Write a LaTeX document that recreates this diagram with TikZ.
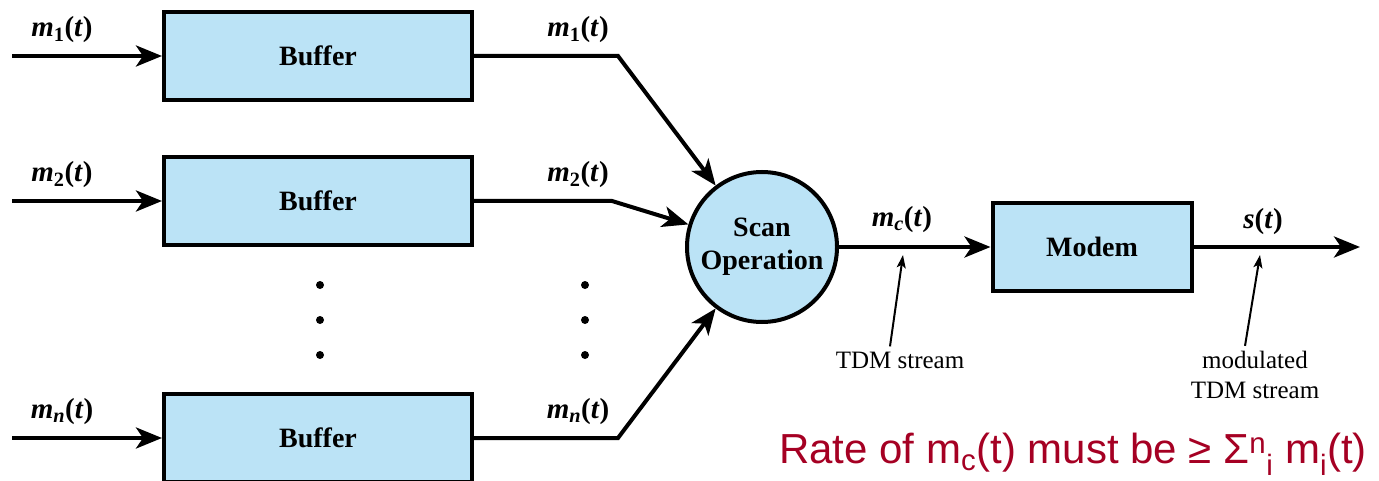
\documentclass[tikz,border=0pt]{standalone}
\usepackage{fontspec}
\setmainfont{Liberation Serif}
\newfontfamily\ratefont{Liberation Sans}
\usetikzlibrary{arrows.meta,positioning}
\definecolor{bufblue}{RGB}{187,227,246}
\definecolor{ratered}{RGB}{165,0,35}
\newcommand{\sig}[2]{\textbf{\textit{#1}\textsubscript{#2}(\textit{t})}}

\begin{document}
\begin{tikzpicture}[x=1pt,y=-1pt,>={Stealth[length=26pt,width=21pt,inset=7pt]},
  line width=4pt,
  buf node/.style={rectangle,draw,fill=bufblue,minimum width=308pt,
  minimum height=88pt,font=\fontsize{28}{30}\selectfont\bfseries},
  scan node/.style={circle,draw,fill=bufblue,minimum size=150pt,inner sep=0pt,
  align=center,font=\fontsize{28}{33}\selectfont\bfseries},
  sig label/.style={font=\fontsize{29}{30}\selectfont},
  note/.style={font=\fontsize{25}{30}\selectfont,align=center},
  note arrow/.style={line width=2pt,-{Stealth[length=13pt,width=9pt,inset=3pt]}}]

  \clip (0,0) rectangle (1379,481);

  \node[buf node] (B1) at (318,56) {Buffer};
  \node[buf node] (B2) at (318,201) {Buffer};
  \node[buf node] (Bn) at (318,438) {Buffer};
  \node[scan node] (scan) at (762,247) {Scan\\Operation};
  \node[buf node, minimum width=199pt] (modem) at (1092,247) {Modem};

  \coordinate (in1) at (12,56);
  \coordinate (in2) at (12,201);
  \coordinate (inn) at (12,438);
  \coordinate (k1) at (618,56);
  \coordinate (k2) at (612,201);
  \coordinate (kn) at (618,438);
  \coordinate (out) at (1360,247);

  % inputs and outputs of the buffers
  \path[->]
    (in1) edge (B1)
    (in2) edge (B2)
    (inn) edge (Bn)
    (scan) edge (modem)
    (modem) edge (out);
  \draw[->] (B1) -- (k1) -- (scan);
  \draw[->] (B2) -- (k2) -- (scan);
  \draw[->] (Bn) -- (kn) -- (scan);

  \node[sig label] (l1) at (62,30) {\sig{m}{1}};
  \node[sig label] (l2) at (62,175) {\sig{m}{2}};
  \node[sig label] (ln) at (62,412) {\sig{m}{\textit{n}}};
  \node[sig label] (r1) at (578,30) {\sig{m}{1}};
  \node[sig label] (r2) at (578,175) {\sig{m}{2}};
  \node[sig label] (rn) at (578,412) {\sig{m}{\textit{n}}};
  \node[sig label] (lc) at (902,220) {\sig{m}{\textit{c}}};
  \node[sig label] (ls) at (1263,222) {\textbf{\textit{s}(\textit{t})}};

  \foreach \y in {285,320,355} {
    \fill (320,\y) circle (4pt);
    \fill (585,\y) circle (4pt);
  }

  % stream annotations
  \node[note] (tdm) at (900,360) {TDM stream};
  \node[note] (mtdm) at (1255,375) {modulated\\TDM stream};
  \coordinate (tdmtip) at (903,255);
  \coordinate (mtdmtip) at (1260,255);
  \draw[note arrow] ([xshift=-10pt]tdm.north) -- (tdmtip);
  \draw[note arrow] ([xshift=-10pt]mtdm.north) -- (mtdmtip);

  \node[anchor=base east,text=ratered,font=\ratefont\fontsize{42}{48}\selectfont]
    (rate) at (1372,463)
    {Rate of m\textsubscript{c}(t) must be ≥ Σ\textsuperscript{n}\textsubscript{i} m\textsubscript{i}(t)};
\end{tikzpicture}
\end{document}
